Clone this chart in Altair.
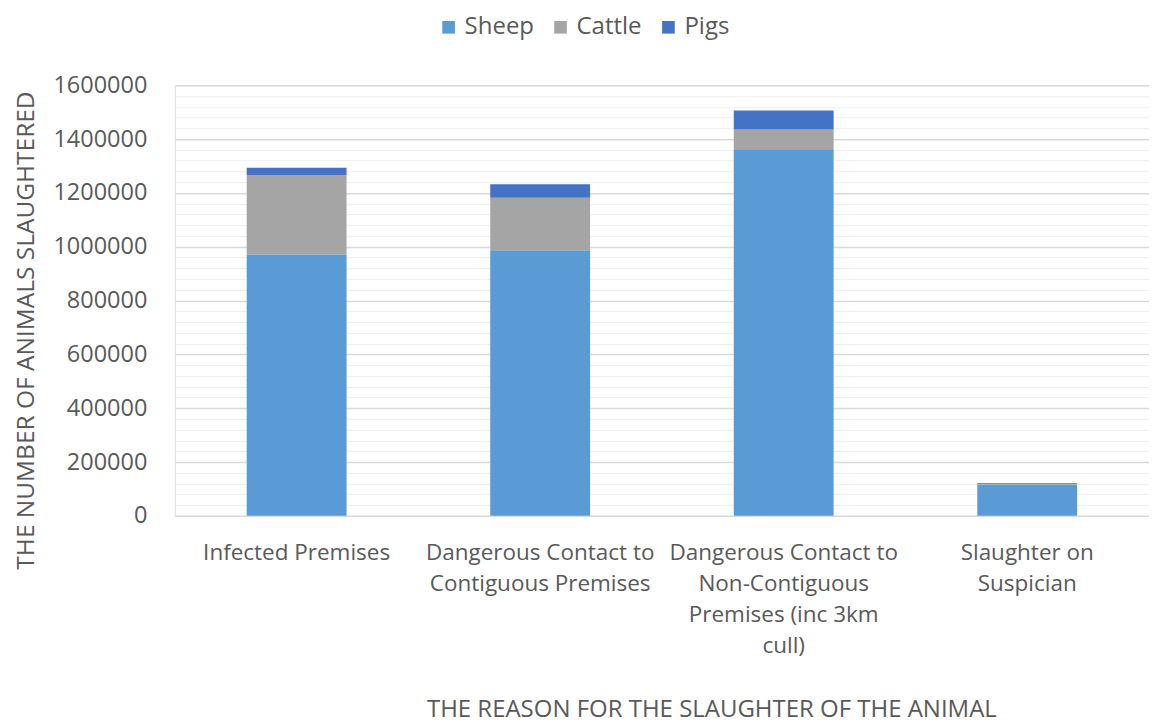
import altair as alt
import pandas as pd

categories = [
    "Infected Premises",
    "Dangerous Contact to Contiguous Premises",
    "Dangerous Contact to Non-Contiguous Premises (inc 3km cull)",
    "Slaughter on Suspician",
]
label_lines = [
    ["Infected Premises"],
    ["Dangerous Contact to", "Contiguous Premises"],
    ["Dangerous Contact to", "Non-Contiguous", "Premises (inc 3km", "cull)"],
    ["Slaughter on", "Suspician"],
]
species = ["Sheep", "Cattle", "Pigs"]
sheep = [970000, 987000, 1359000, 117000]
cattle = [296000, 195000, 77000, 2000]
pigs = [27000, 50000, 70000, 3000]
colors = ["#5B9BD5", "#A5A5A5", "#4472C4"]

rows = []
for i, c in enumerate(categories):
    for j, (s, vals) in enumerate(zip(species, [sheep, cattle, pigs])):
        rows.append({"reason": c, "species": s, "count": vals[i], "order": j})
df = pd.DataFrame(rows)

label_map = {c: l for c, l in zip(categories, label_lines)}
label_expr = "{" + ", ".join(
    "'" + c + "': [" + ", ".join("'" + x + "'" for x in l) + "]" for c, l in label_map.items()
) + "}[datum.value]"

FONT = "Open Sans"
GRAY = "#595959"

chart = alt.Chart(df).mark_bar().encode(
    x=alt.X(
        "reason:N",
        sort=categories,
        scale=alt.Scale(paddingInner=0.59, paddingOuter=0.295),
        axis=alt.Axis(
            title="THE REASON FOR THE SLAUGHTER OF THE ANIMAL",
            labelAngle=0,
            labelExpr=label_expr,
            labelLineHeight=31,
            labelPadding=44,
            labelLimit=400,
            labelBaseline="alphabetic",
            labelFontSize=22.5,
            labelColor=GRAY,
            labelFont=FONT,
            ticks=False,
            domain=False,
            titleFont=FONT,
            titleFontSize=24,
            titleFontWeight="normal",
            titleColor=GRAY,
            titleX=537,
            titleY=194,
            titleBaseline="middle",
            titleAlign="center",
        ),
    ),
    y=alt.Y(
        "count:Q",
        stack="zero",
        scale=alt.Scale(domain=[0, 1600000], nice=False),
        axis=alt.Axis(
            title="THE NUMBER OF ANIMALS SLAUGHTERED",
            values=list(range(0, 1600001, 40000)),
            labelExpr="datum.value % 200000 === 0 ? datum.label : ''",
            format="d",
            ticks=False,
            domain=False,
            labelPadding=28,
            labelFontSize=23.5,
            labelColor=GRAY,
            labelFont=FONT,
            gridColor={"condition": {"test": "datum.value % 200000 === 0", "value": "#D9D9D9"}, "value": "#EEEEEE"},
            gridWidth={"condition": {"test": "datum.value % 200000 === 0", "value": 1.5}, "value": 1},
            titleFont=FONT,
            titleFontSize=24.5,
            titleFontWeight="normal",
            titleColor=GRAY,
            titleX=-148,
            titleY=245,
            titleAngle=-90,
            titleBaseline="middle",
            titleAlign="center",
        ),
    ),
    color=alt.Color(
        "species:N",
        sort=species,
        scale=alt.Scale(domain=species, range=colors),
        legend=alt.Legend(
            title=None,
            orient="none",
            direction="horizontal",
            legendX=262,
            legendY=-70,
            symbolType="square",
            symbolSize=160,
            symbolStrokeWidth=0,
            labelFontSize=24,
            labelFont=FONT,
            labelColor=GRAY,
            labelLimit=300,
            columnPadding=14,
            labelOffset=4,
        ),
    ),
    order=alt.Order("order:Q", sort="ascending"),
).properties(
    width=975,
    height=431,
    autosize=alt.AutoSizeParams(type="none"),
    padding={"left": 167, "top": 77, "right": 0, "bottom": 207},
).configure_view(stroke=None).configure(background="white")

chart.save("out.html", embed_options={"renderer": "svg", "actions": False})
